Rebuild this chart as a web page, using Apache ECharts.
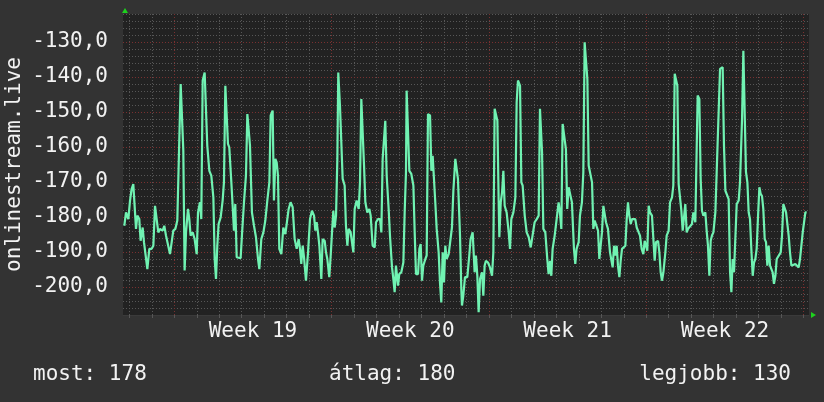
<!DOCTYPE html>
<html>
<head>
<meta charset="utf-8">
<script src="https://cdn.jsdelivr.net/npm/echarts@6/dist/echarts.min.js"></script>
<style>
html,body{margin:0;padding:0;background:#333333;}
#c{width:824px;height:402px;}
</style>
</head>
<body>
<div id="c"></div>
<script>
// hours relative to the start (Monday 00:00) of week 19
const hours = [
-53.4,-51.6,-49.1,-47.3,-45.6,-43.8,-42.0,-40.9,-39.5,-37.4,-36.0,-33.8,-32.4,-30.6,-28.8,-26.7,-24.2,-22.4,-20.6,-18.9,-17.1,-15.3,-12.5,-10.7,-8.9,-7.1,-4.6,-2.8,-1.1,1.1,3.2,5.3,6.8,8.2,9.6,11.0,12.5,14.6,16.0,17.4,19.6,21.7,23.9,25.3,27.4,28.8,30.3,32.4,33.8,35.2,37.4,39.5,41.7,43.1,44.5,45.9,47.3,49.5,51.6,53.0,54.5,55.9,57.3,58.7,60.9,62.3,63.7,65.1,66.6,68.7,70.8,72.3,74.4,76.5,78.0,79.4,80.8,82.9,85.1,87.2,89.4,90.8,92.9,95.1,97.2,99.3,101.5,102.9,105.0,106.4,107.9,109.3,110.7,112.1,114.3,116.4,118.6,120.7,122.1,124.2,126.4,128.5,130.7,
132.8,134.2,135.6,137.1,138.5,140.6,142.8,144.9,147.0,149.2,150.6,152.0,153.4,154.9,157.0,158.4,160.6,162.0,163.4,165.5,167.0,168.4,169.8,171.2,172.7,174.1,175.1,176.9,178.4,179.8,181.9,183.3,184.8,186.2,188.3,189.7,191.2,192.6,194.7,196.9,198.3,199.7,201.1,202.6,204.0,206.1,208.3,209.7,211.8,214.0,215.4,217.5,219.7,221.1,222.5,223.9,225.3,226.8,228.9,230.3,232.5,233.9,235.3,236.7,238.9,240.2,242.4,244.6,246.0,247.4,248.1,249.6,251.0,253.1,255.3,256.7,258.1,260.3,261.7,263.1,264.5,265.9,268.1,269.5,270.9,273.1,274.5,275.9,277.3,278.7,280.2,282.3,283.7,285.1,286.6,288.0,289.4,290.8,293.0,294.4,296.5,298.0,300.1,301.5,302.9,305.1,
306.5,307.2,308.6,310.4,312.9,315.0,316.4,318.6,320.7,322.1,323.6,325.0,326.5,328.6,330.0,331.4,332.8,335.0,337.1,339.3,340.7,342.1,343.6,345.0,346.4,347.1,348.6,350.0,351.4,352.8,354.9,357.1,358.5,359.9,362.1,364.2,365.6,367.0,369.2,370.6,372.0,374.2,376.3,378.5,380.6,382.7,384.8,387.0,389.1,390.5,392.7,394.1,396.2,398.3,399.7,401.2,402.6,404.0,406.2,408.3,410.4,411.8,413.3,414.7,416.8,418.2,419.6,421.1,423.2,424.6,426.8,428.2,429.6,431.8,433.2,435.3,436.8,438.2,439.6,441.1,442.5,443.9,446.1,447.5,448.9,451.0,452.5,453.9,455.3,456.7,458.2,459.6,461.0,463.1,465.3,466.7,468.1,469.6,471.0,472.4,473.8,475.3,476.7,478.1,479.5,481.7,483.1,484.5,485.9,487.4,488.8,490.9,492.3,493.8,495.9,
497.3,499.1,500.9,502.3,503.7,505.1,506.6,508.0,510.1,511.6,513.0,514.4,516.6,518.0,519.4,520.8,522.3,524.4,525.8,527.9,529.4,531.5,532.9,534.4,535.8,537.2,538.6,540.1,541.5,542.9,544.3,545.7,547.2,548.6,550.7,552.8,554.3,556.4,557.8,558.9,560.7,562.1,563.5,565.0,567.1,568.5,569.9,571.4,572.8,574.2,575.7,577.8,579.2,581.3,582.8,584.2,585.6,587.0,588.5,590.6,592.0,593.5,594.9,596.3,597.7,599.1,600.6,602.7,604.1,606.3,607.7,609.1,610.5,612.0,613.4,614.8,616.2,617.7,619.1,620.5,621.9,623.4,624.8,626.2,627.6,629.0,630.5,631.9,633.3,634.7,636.2,637.6,639.0,640.4,641.9,643.3,645.4,647.6,649.0,650.4,651.8,653.3,654.7,656.1,657.5,659.0,661.1,663.2,664.7,666.8,668.2,669.6,671.1,672.5,673.9,675.3
];
const latency = [
-182.5,-178.7,-180.6,-175.3,-172.0,-170.6,-170.6,-183.4,-179.6,-180.6,-186.8,-183.0,-187.2,-191.0,-194.9,-189.1,-189.1,-188.2,-176.8,-176.3,-184.4,-183.4,-183.9,-182.5,-185.3,-184.9,-190.6,-190.6,-183.9,-183.4,-181.0,-180.6,-142.0,-142.0,-161.0,-195.3,-184.4,-177.7,-180.6,-185.3,-184.4,-186.3,-190.6,-178.7,-175.8,-180.6,-141.0,-138.7,-139.1,-159.6,-166.8,-168.2,-174.4,-192.0,-197.7,-188.2,-182.0,-180.1,-175.3,-170.1,-142.5,-143.0,-159.1,-160.1,-170.1,-176.8,-183.9,-176.3,-191.5,-191.8,-191.8,-184.9,-175.8,-168.2,-150.6,-150.6,-159.6,-178.7,-182.5,-185.8,-192.0,-194.9,-186.3,-184.4,-181.0,-175.3,-170.1,-151.0,-149.6,-175.3,-163.4,-164.4,-168.2,-189.1,-190.6,-183.0,-184.9,-185.3,-177.7,-175.8,-177.2,-186.3,-189.1,
-186.3,-189.1,-193.4,-188.2,-191.5,-198.2,-190.1,-180.6,-178.2,-179.6,-183.9,-181.5,-184.4,-188.2,-197.7,-186.3,-186.8,-190.1,-192.0,-197.2,-191.0,-184.4,-178.2,-183.0,-179.6,-163.4,-138.7,-148.2,-148.7,-169.1,-171.0,-182.5,-188.2,-183.4,-184.4,-184.9,-190.1,-177.7,-175.3,-177.7,-170.1,-146.3,-146.3,-165.3,-175.8,-178.7,-177.7,-179.6,-188.2,-188.7,-181.5,-180.6,-180.6,-184.4,-163.4,-163.4,-152.5,-168.2,-177.7,-185.3,-194.4,-197.7,-201.5,-193.9,-199.6,-196.3,-195.8,-193.0,-178.7,-167.2,-143.9,-143.9,-166.8,-167.7,-171.0,-184.4,-196.3,-196.3,-189.1,-187.7,-198.2,-193.9,-192.0,-191.0,-150.6,-151.0,-166.8,-162.5,-162.5,-175.8,-183.4,-190.1,-198.7,-204.4,-190.1,-198.7,-188.2,-192.0,-190.6,-190.1,-183.0,-172.5,-163.4,-163.0,-169.1,-185.3,
-200.6,-205.3,-202.5,-197.2,-197.2,-191.0,-186.3,-184.4,-195.8,-191.0,-196.8,-207.2,-197.7,-195.8,-202.5,-193.9,-192.5,-193.0,-194.4,-196.8,-190.1,-149.1,-149.1,-152.5,-175.8,-185.8,-175.8,-173.0,-166.8,-176.8,-178.7,-184.4,-189.1,-180.6,-178.7,-174.4,-147.2,-141.0,-142.5,-170.1,-171.0,-179.6,-184.4,-185.8,-188.7,-188.2,-181.5,-180.6,-179.6,-149.1,-161.5,-183.4,-184.4,-192.0,-196.3,-192.5,-196.8,-189.1,-185.3,-180.6,-175.8,-178.7,-183.4,-153.4,-153.9,-160.6,-177.7,-171.5,-171.5,-175.8,-189.1,-193.4,-189.1,-187.2,-179.6,-175.8,-167.2,-130.1,-130.1,-140.6,-165.3,-165.8,-170.1,-183.4,-181.0,-181.5,-183.9,-192.0,-192.0,-184.4,-176.8,-176.3,-181.5,-183.4,-190.1,-190.6,-194.4,-188.2,-191.0,-188.2,-193.9,-197.2,-192.5,-189.1,-188.7,-188.2,-180.6,-175.8,-179.6,-182.0,-180.6,-181.0,-180.6,-183.0,-184.4,
-185.3,-189.1,-190.6,-186.8,-187.2,-189.6,-176.8,-178.7,-179.6,-186.3,-192.5,-187.2,-186.8,-190.1,-195.8,-198.2,-195.8,-190.1,-185.3,-183.9,-175.8,-174.4,-171.0,-139.1,-139.1,-142.5,-170.6,-171.0,-178.2,-183.9,-184.4,-176.3,-184.4,-183.4,-183.4,-182.0,-178.7,-181.5,-181.5,-145.3,-146.3,-169.1,-178.2,-179.6,-178.7,-183.9,-188.2,-196.8,-186.8,-185.3,-184.4,-178.7,-167.2,-167.2,-137.7,-137.2,-137.2,-159.6,-172.5,-173.0,-174.9,-195.8,-201.5,-192.0,-195.8,-195.8,-176.3,-175.3,-170.1,-152.0,-132.5,-132.5,-167.2,-170.1,-178.7,-180.6,-189.1,-196.8,-193.0,-192.0,-189.1,-179.6,-171.5,-173.4,-174.0,-177.7,-186.3,-187.2,-193.9,-188.2,-193.9,-193.9,-195.8,-199.1,-196.8,-192.0,-191.5,-190.1,-185.3,-176.3,-176.3,-178.7,-178.7,-185.3,-190.1,-193.9,-193.9,-193.4,-193.0,-194.4,-192.0,-192.0,-184.4,-183.9,-178.7,-178.7
];
const weekLabels = ['Week 19', 'Week 20', 'Week 21', 'Week 22'];
const weekLabelHours = [84, 252, 420, 588];
const weekStartHours = [0, 168, 336, 504, 672];
const dayHours = [-48,-24,24,48,72,96,120,144,192,216,240,264,288,312,360,384,408,432,456,480,528,552,576,600,624,648];
const majorY = [-200,-190,-180,-170,-160,-150,-140,-130];
const yTitle = 'onlinestream.live';
const summaryLabels = ['most', 'átlag', 'legjobb'];
const summaryValues = [178, 180, 130];

if (hours.length !== latency.length) console.error('length mismatch', hours.length, latency.length);

const FONT = '"DejaVu Sans Mono", monospace';
const TXT = '#f2f2f2';
const GRAY = '#575757';
const RED = '#7a3030';
const DOT = [1, 2];

const chart = echarts.init(document.getElementById('c'), null, {renderer: 'canvas'});
const seriesData = hours.map((h, i) => [h, latency[i]]);

const gridLines = []
  .concat(dayHours.map(h => ({xAxis: h, lineStyle: {color: GRAY, type: DOT, width: 1}})))
  .concat(weekStartHours.map(h => ({xAxis: h, lineStyle: {color: RED, type: DOT, width: 1}})))
  .concat(majorY.map(v => ({yAxis: v, lineStyle: {color: RED, type: DOT, width: 1}})));

chart.setOption({
  backgroundColor: '#333333',
  animation: false,
  grid: {left: 123, right: 15, top: 14, bottom: 87, show: true, backgroundColor: '#222222', borderWidth: 0,
         containLabel: false, outerBoundsMode: 'none'},
  xAxis: {
    type: 'value', min: -54.8, max: 677.8,
    splitLine: {show: false},
    axisLine: {show: true, lineStyle: {color: '#3a3a3a'}},
    axisTick: {show: true, customValues: dayHours.concat(weekStartHours), length: 3, lineStyle: {color: GRAY}},
    axisLabel: {
      customValues: weekLabelHours,
      formatter: v => { const i = weekLabelHours.indexOf(Math.round(v)); return i >= 0 ? weekLabels[i] : ''; },
      color: TXT, fontFamily: FONT, fontSize: 21, margin: 6
    }
  },
  yAxis: {
    type: 'value', min: -208, max: -122, interval: 2,
    name: yTitle, nameLocation: 'middle', nameGap: 98, nameRotate: 90, nameMoveOverlap: false,
    nameTextStyle: {color: TXT, fontFamily: FONT, fontSize: 21},
    axisLine: {show: false},
    axisTick: {show: false},
    splitLine: {show: true, lineStyle: {color: GRAY, type: DOT, width: 1}},
    axisLabel: {
      interval: 0,
      formatter: v => (Math.round(v) % 10 === 0 ? v.toFixed(1).replace('.', ',') : ''),
      color: TXT, fontFamily: FONT, fontSize: 21, margin: 15
    }
  },
  series: [{
    type: 'line',
    data: seriesData,
    symbol: 'none',
    z: 3,
    lineStyle: {color: '#70f2b2', width: 2.2},
    markLine: {silent: true, z: 1, symbol: ['none', 'none'], label: {show: false}, animation: false, data: gridLines}
  }]
});

// decorations: axis arrows and summary line
const tl = chart.convertToPixel({gridIndex: 0}, [-54.8, -122]);
const br = chart.convertToPixel({gridIndex: 0}, [677.8, -208]);
const ARROW = '#1ed21e';
const textStyle = {fill: TXT, font: '21px ' + FONT, textVerticalAlign: 'middle'};
chart.setOption({
  graphic: [
    {type: 'polygon', shape: {points: [[tl[0] - 1, tl[1] - 1], [tl[0] + 5, tl[1] - 1], [tl[0] + 2, tl[1] - 6]]}, style: {fill: ARROW}},
    {type: 'polygon', shape: {points: [[br[0] + 2, br[1] - 3], [br[0] + 2, br[1] + 3], [br[0] + 7, br[1]]]}, style: {fill: ARROW}},
    {type: 'text', left: 33, top: 364, style: Object.assign({text: summaryLabels[0] + ': ' + summaryValues[0]}, textStyle)},
    {type: 'text', left: 329, top: 364, style: Object.assign({text: summaryLabels[1] + ': ' + summaryValues[1]}, textStyle)},
    {type: 'text', right: 33, top: 364, style: Object.assign({text: summaryLabels[2] + ': ' + summaryValues[2]}, textStyle)}
  ]
});
</script>
</body>
</html>
